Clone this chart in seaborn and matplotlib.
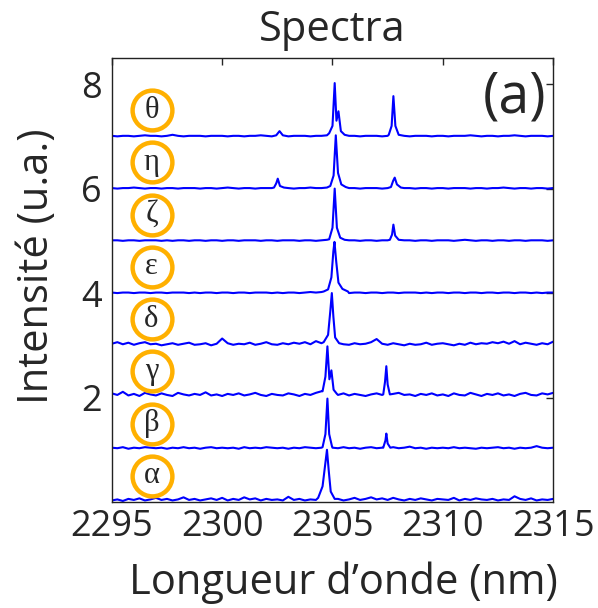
import numpy as np
import pandas as pd
import seaborn as sns
import matplotlib
matplotlib.use("Agg")
import matplotlib.pyplot as plt

# sampling grid of the spectra (nm), 0.25 nm step
wavelength = np.linspace(2295, 2315, 81)

names = ["α", "β", "γ", "δ", "ε", "ζ", "η", "θ"]
offsets = [0, 1, 2, 3, 4, 5, 6, 7]

# baseline noise, in hundredths above each offset
noise = {
    "α": [3, 5, 2, 6, 4, 7, 3, 5, 8, 4,
          6, 3, 5, 9, 4, 6, 3, 5, 7, 4,
          8, 3, 6, 4, 9, 5, 7, 3, 6, 4,
          5, 3, 10, 4, 6, 3, 5, 4, 7, 12,
          4, 6, 3, 5, 8, 4, 6, 9, 5, 7,
          4, 8, 5, 3, 6, 4, 7, 5, 3, 6,
          5, 4, 8, 3, 6, 4, 7, 5, 4, 6,
          3, 5, 4, 11, 6, 4, 7, 3, 5, 4,
          6],
    "β": [4, 3, 5, 2, 4, 3, 5, 4, 3, 4,
          2, 4, 3, 5, 3, 4, 2, 4, 5, 3,
          4, 3, 4, 2, 5, 3, 4, 3, 5, 4,
          3, 4, 2, 4, 3, 5, 4, 3, 4, 5,
          4, 3, 5, 3, 4, 2, 4, 5, 3, 4,
          3, 5, 3, 4, 6, 3, 4, 2, 4, 3,
          4, 3, 5, 3, 4, 3, 2, 4, 3, 4,
          5, 3, 4, 2, 4, 3, 4, 7, 4, 3,
          4],
    "γ": [8, 5, 11, 4, 7, 3, 9, 6, 4, 8,
          5, 3, 9, 6, 4, 7, 5, 10, 4, 6,
          3, 7, 5, 8, 4, 6, 9, 5, 3, 7,
          5, 4, 8, 6, 3, 7, 5, 9, 12, 10,
          6, 5, 8, 4, 7, 5, 3, 6, 8, 5,
          4, 7, 9, 5, 6, 3, 7, 5, 8, 4,
          6, 3, 8, 5, 4, 9, 6, 3, 7, 5,
          8, 4, 6, 3, 7, 9, 5, 4, 8, 6,
          9],
    "δ": [3, 6, 2, 5, 1, 4, 6, 2, 3, 0,
          2, 4, 1, 3, 5, 1, 2, 4, 0, 3,
          13, 4, 1, 3, 2, 5, 1, 3, 6, 2,
          1, 4, 2, 5, 3, 6, 2, 8, 4, 6,
          5, 3, 2, 1, 4, 2, 3, 6, 12, 3,
          1, 4, 2, 0, 3, 1, 2, 5, 1, 3,
          4, 2, 0, 3, 1, 5, 2, 4, 3, 6,
          4, 7, 3, 8, 2, 5, 3, 1, 4, 2,
          7],
    "ε": [1, 0, 1, 1, 0, 1, 1, 0, 1, 1,
          0, 1, 1, 1, 0, 1, 0, 1, 1, 0,
          1, 1, 0, 1, 1, 0, 1, 1, 1, 0,
          1, 0, 1, 1, 0, 1, 2, 1, 2, 3,
          2, 1, 1, 0, 1, 1, 0, 1, 1, 0,
          1, 1, 0, 1, 1, 1, 0, 1, 0, 1,
          1, 0, 1, 1, 0, 1, 1, 0, 1, 1,
          0, 1, 1, 0, 1, 1, 0, 1, 0, 1,
          1],
    "ζ": [1, 1, 0, 1, 1, 0, 1, 1, 1, 0,
          1, 0, 1, 1, 0, 1, 1, 0, 1, 1,
          0, 1, 1, 0, 1, 1, 1, 0, 1, 1,
          0, 1, 1, 1, 0, 1, 1, 0, 1, 2,
          1, 1, 0, 1, 1, 0, 1, 1, 0, 1,
          1, 0, 1, 1, 1, 0, 1, 1, 0, 1,
          1, 1, 0, 1, 2, 1, 0, 1, 1, 0,
          1, 1, 0, 1, 1, 0, 1, 1, 1, 0,
          1],
    "η": [1, 0, 1, 1, 2, 1, 0, 1, 1, 0,
          1, 1, 0, 1, 1, 1, 0, 1, 1, 0,
          1, 2, 1, 0, 1, 1, 0, 1, 1, 1,
          0, 1, 1, 0, 1, 1, 2, 1, 1, 2,
          1, 1, 0, 1, 1, 0, 1, 1, 1, 0,
          1, 1, 0, 1, 1, 0, 1, 1, 0, 1,
          1, 0, 1, 1, 1, 0, 1, 1, 0, 1,
          1, 2, 1, 0, 1, 1, 0, 1, 1, 0,
          1],
    "θ": [1, 0, 1, 1, 0, 1, 2, 1, 1, 0,
          1, 3, 1, 0, 1, 1, 1, 0, 1, 1,
          1, 0, 1, 1, 0, 1, 1, 2, 1, 0,
          1, 1, 0, 1, 1, 1, 0, 1, 1, 2,
          1, 1, 0, 1, 1, 0, 1, 1, 1, 0,
          1, 1, 2, 1, 0, 1, 1, 1, 0, 1,
          1, 0, 1, 1, 1, 2, 1, 0, 1, 1,
          0, 1, 1, 2, 1, 0, 1, 1, 1, 0,
          1],
}

# emission lines: (wavelength nm, height above offset), one list per line
peaks = {
    "α": [[(2304.35, 0.08), (2304.55, 0.3), (2304.65, 0.65), (2304.75, 1.0),
           (2304.83, 0.6), (2304.92, 0.2), (2305.1, 0.06)]],
    "β": [[(2304.55, 0.05), (2304.68, 0.3), (2304.77, 0.98), (2304.85, 0.3), (2304.98, 0.06)],
          [(2307.3, 0.04), (2307.4, 0.18), (2307.44, 0.31), (2307.5, 0.12), (2307.62, 0.04)]],
    "γ": [[(2304.55, 0.12), (2304.68, 0.4), (2304.77, 0.98), (2304.86, 0.35),
           (2304.95, 0.52), (2305.05, 0.15), (2305.2, 0.07)],
          [(2307.3, 0.06), (2307.38, 0.3), (2307.44, 0.6), (2307.5, 0.25), (2307.6, 0.06)]],
    "δ": [[(2304.6, 0.06), (2304.8, 0.2), (2304.9, 0.65), (2304.97, 1.0),
           (2305.04, 0.55), (2305.12, 0.15), (2305.3, 0.04)]],
    "ε": [[(2304.6, 0.03), (2304.8, 0.07), (2304.95, 0.3), (2305.04, 0.8),
           (2305.09, 0.98), (2305.17, 0.6), (2305.27, 0.2), (2305.45, 0.08), (2305.7, 0.03)]],
    "ζ": [[(2304.85, 0.03), (2305.0, 0.25), (2305.1, 1.0), (2305.2, 0.25),
           (2305.35, 0.06), (2305.55, 0.02)],
          [(2307.6, 0.02), (2307.7, 0.12), (2307.76, 0.31), (2307.84, 0.1), (2308.0, 0.02)]],
    "η": [[(2302.35, 0.02), (2302.45, 0.1), (2302.52, 0.19), (2302.62, 0.05), (2302.8, 0.02)],
          [(2304.9, 0.05), (2305.05, 0.25), (2305.15, 1.02), (2305.25, 0.3),
           (2305.4, 0.08), (2305.6, 0.03)],
          [(2307.65, 0.03), (2307.75, 0.15), (2307.82, 0.21), (2307.92, 0.08), (2308.1, 0.02)]],
    "θ": [[(2302.45, 0.02), (2302.6, 0.1), (2302.75, 0.02)],
          [(2304.85, 0.06), (2305.0, 0.2), (2305.1, 1.02), (2305.18, 0.3),
           (2305.27, 0.48), (2305.38, 0.1), (2305.55, 0.03)],
          [(2307.55, 0.03), (2307.68, 0.2), (2307.76, 0.77), (2307.85, 0.2), (2308.0, 0.03)]],
}

rows = []
for name, off in zip(names, offsets):
    keep = np.ones(len(wavelength), dtype=bool)
    for line in peaks[name]:
        lo, hi = line[0][0], line[-1][0]
        keep &= ~((wavelength >= lo) & (wavelength <= hi))
    for w, n in zip(wavelength[keep], np.array(noise[name])[keep]):
        rows.append((name, w, off + n / 100))
    for line in peaks[name]:
        for w, h in line:
            rows.append((name, w, off + h))
df = pd.DataFrame(rows, columns=["spectre", "wl", "intensite"])

labels = pd.DataFrame({"spectre": names,
                       "wl": [2296.8] * 8,
                       "y": [o + 0.5 for o in offsets]})

sns.set_style("white")
plt.rcParams["font.family"] = ["Open Sans", "DejaVu Sans"]

fig = plt.figure(figsize=(5.98, 6.08), dpi=100)
ax = fig.add_axes([0.187, 0.1743, 0.738, 0.7303])

sns.lineplot(data=df, x="wl", y="intensite", hue="spectre", palette=["#0000ff"] * 8,
             estimator=None, sort=True, legend=False, linewidth=1.5, ax=ax)

sns.scatterplot(data=labels, x="wl", y="y", s=820, color="white",
                edgecolor="#ffb000", linewidth=3.2, zorder=5, ax=ax)
for _, r in labels.iterrows():
    ax.text(r["wl"], r["y"], r["spectre"], ha="center", va="center",
            fontsize=22, family=["Liberation Serif", "DejaVu Serif"], zorder=6)

ax.set_xlim(2295, 2315)
ax.set_ylim(0, 8.5)
ax.set_xticks([2295, 2300, 2305, 2310, 2315])
ax.set_yticks([2, 4, 6, 8])
ax.tick_params(direction="in", length=5, width=1, labelsize=26,
               top=True, right=True)
ax.tick_params(axis="x", pad=5)
ax.tick_params(axis="y", pad=7)
for s in ax.spines.values():
    s.set_color("#222222")
    s.set_linewidth(1)

ax.set_title("Spectra", fontsize=30, pad=12)
ax.set_xlabel("Longueur d’onde (nm)", fontsize=30, labelpad=12, x=0.525)
ax.set_ylabel("Intensité (u.a.)", fontsize=30, labelpad=17, y=0.53)
ax.text(0.985, 0.975, "(a)", transform=ax.transAxes, ha="right", va="top", fontsize=40)

fig.savefig("out.png", dpi=100)
